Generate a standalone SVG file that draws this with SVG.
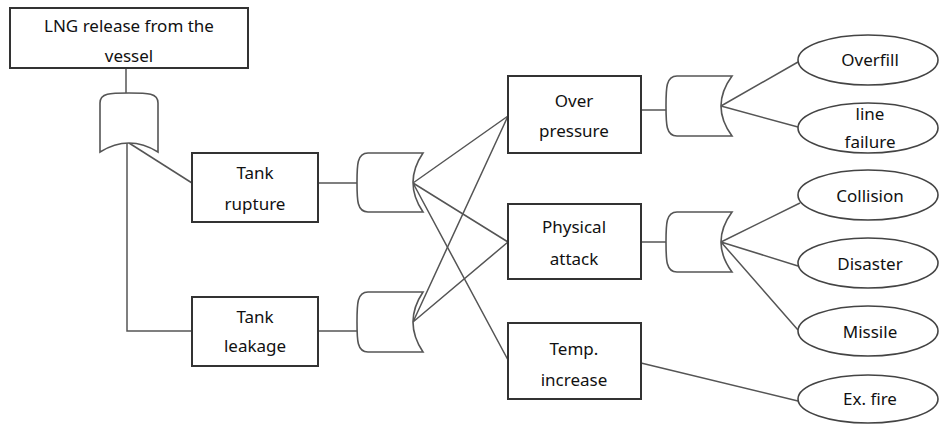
<svg xmlns="http://www.w3.org/2000/svg" width="940" height="425" viewBox="0 0 940 425">
<style>
.box{fill:#fff;stroke:#333;stroke-width:2}
.gate{fill:#fff;stroke:#555;stroke-width:1.6}
.ell{fill:#fff;stroke:#444;stroke-width:1.6}
.t{font-family:"Noto Sans","Liberation Sans",sans-serif;font-size:17px;fill:#111;text-anchor:middle}
.c{fill:none;stroke:#555;stroke-width:1.5}
</style>
<rect width="940" height="425" fill="#fff"/>
<g id="connectors">
<path class="c" d="M126,68V93"/>
<path class="c" d="M127,143V331H192"/>
<path class="c" d="M129,143L192,183"/>
<path class="c" d="M318,183H357"/>
<path class="c" d="M318,331H357"/>
<path class="c" d="M413,183L508,116M413,183L508,242M413,183L508,360"/>
<path class="c" d="M413,322L508,116M413,322L508,242"/>
<path class="c" d="M641,110H666"/>
<path class="c" d="M641,242H666"/>
<path class="c" d="M721,106L798,62M721,106L798,127"/>
<path class="c" d="M721,242L800,203M721,242L798,266M721,242L798,330"/>
<path class="c" d="M641,363L798,401"/>
</g>
<g id="top-event">
<rect class="box" x="10" y="8" width="238" height="60"/>
<text class="t" x="129" y="32">LNG release from the</text>
<text class="t" x="129" y="62">vessel</text>
</g>
<g id="gate-top">
<path class="gate" d="M100,103C100,93 110,93 129,93C148,93 158,93 158,103V152Q129,134 100,152Z"/>
</g>
<g id="tank-rupture">
<rect class="box" x="192" y="153" width="126" height="69"/>
<text class="t" x="255" y="179">Tank</text>
<text class="t" x="255" y="210">rupture</text>
</g>
<g id="tank-leakage">
<rect class="box" x="192" y="297" width="126" height="69"/>
<text class="t" x="255" y="323">Tank</text>
<text class="t" x="255" y="352">leakage</text>
</g>
<g id="gate-rupture">
<path class="gate" d="M368,153H423Q403,182.5 423,212H368C357,212 357,200 357,182.5C357,165 357,153 368,153Z"/>
</g>
<g id="gate-leakage">
<path class="gate" d="M368,292H423Q403,322 423,352H368C357,352 357,340 357,322C357,304 357,292 368,292Z"/>
</g>
<g id="over-pressure">
<rect class="box" x="508" y="76" width="133" height="77"/>
<text class="t" x="574" y="107">Over</text>
<text class="t" x="574" y="137">pressure</text>
</g>
<g id="physical-attack">
<rect class="box" x="508" y="204" width="133" height="75"/>
<text class="t" x="574" y="233">Physical</text>
<text class="t" x="574" y="265">attack</text>
</g>
<g id="temp-increase">
<rect class="box" x="508" y="323" width="133" height="76"/>
<text class="t" x="574" y="355">Temp.</text>
<text class="t" x="574" y="386">increase</text>
</g>
<g id="gate-pressure">
<path class="gate" d="M677,76H732Q710,106 732,136H677C666,136 666,124 666,106C666,88 666,76 677,76Z"/>
</g>
<g id="gate-attack">
<path class="gate" d="M677,212H732Q710,242 732,272H677C666,272 666,260 666,242C666,224 666,212 677,212Z"/>
</g>
<g id="overfill">
<ellipse class="ell" cx="868" cy="60" rx="70" ry="25"/>
<text class="t" x="870" y="66">Overfill</text>
</g>
<g id="line-failure">
<ellipse class="ell" cx="868" cy="128" rx="70" ry="25"/>
<text class="t" x="870" y="120">line</text>
<text class="t" x="870" y="148">failure</text>
</g>
<g id="collision">
<ellipse class="ell" cx="868" cy="195" rx="70" ry="25"/>
<text class="t" x="870" y="202">Collision</text>
</g>
<g id="disaster">
<ellipse class="ell" cx="868" cy="263" rx="70" ry="25"/>
<text class="t" x="870" y="270">Disaster</text>
</g>
<g id="missile">
<ellipse class="ell" cx="868" cy="331" rx="70" ry="25"/>
<text class="t" x="870" y="338">Missile</text>
</g>
<g id="ex-fire">
<ellipse class="ell" cx="868" cy="399" rx="70" ry="24"/>
<text class="t" x="870" y="405">Ex. fire</text>
</g>
</svg>
